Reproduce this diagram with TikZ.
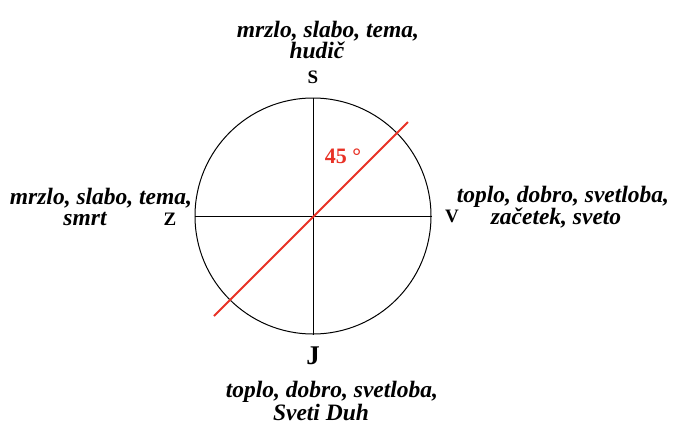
\documentclass[tikz,border=0pt]{standalone}
\usepackage{fontspec}
\setmainfont{Liberation Serif}
\definecolor{redline}{RGB}{232,50,38}
\begin{document}
\begin{tikzpicture}[x=1pt,y=-1pt,
  lbl/.style={font=\fontsize{23.5}{21}\selectfont\bfseries\itshape, align=center, inner sep=0pt},
  dir/.style={font=\fontsize{19}{20}\selectfont\bfseries, inner sep=0pt},
  axis/.style={draw=black, line width=1pt}]
\useasboundingbox (0,0) rectangle (673,424);
\coordinate (O) at (313,216);
\node[draw, circle, minimum size=236pt, line width=1pt, inner sep=0pt] (c) at (O) {};
\draw[axis] (c.west) -- (c.east);
\draw[axis] (c.north) -- (c.south);
\coordinate (r1) at (214,316);
\coordinate (r2) at (408,122);
\draw[redline, line width=1.8pt] (r1) -- (r2);
\node[font=\fontsize{22}{22}\selectfont\bfseries, text=redline, inner sep=0pt] (ang) at (343,156) {45 °};
\node[dir] (S) at (313,77) {S};
\node[dir] (Z) at (170,219) {Z};
\node[dir] (V) at (452,216) {V};
\node[dir, font=\fontsize{27}{28}\selectfont\bfseries] (J) at (313,356) {J};
\node[lbl] (tn) at (328,40) {mrzlo, slabo, tema,\\hudič\hspace*{22pt}};
\node[lbl] (tw) at (101,207) {mrzlo, slabo, tema,\\smrt\hspace*{32pt}};
\node[lbl] (te) at (563,207) {toplo, dobro, svetloba,\\začetek, sveto\hspace*{14pt}};
\node[lbl] (ts) at (332,401) {toplo, dobro, svetloba,\\Sveti Duh\hspace*{22pt}};
\end{tikzpicture}
\end{document}
